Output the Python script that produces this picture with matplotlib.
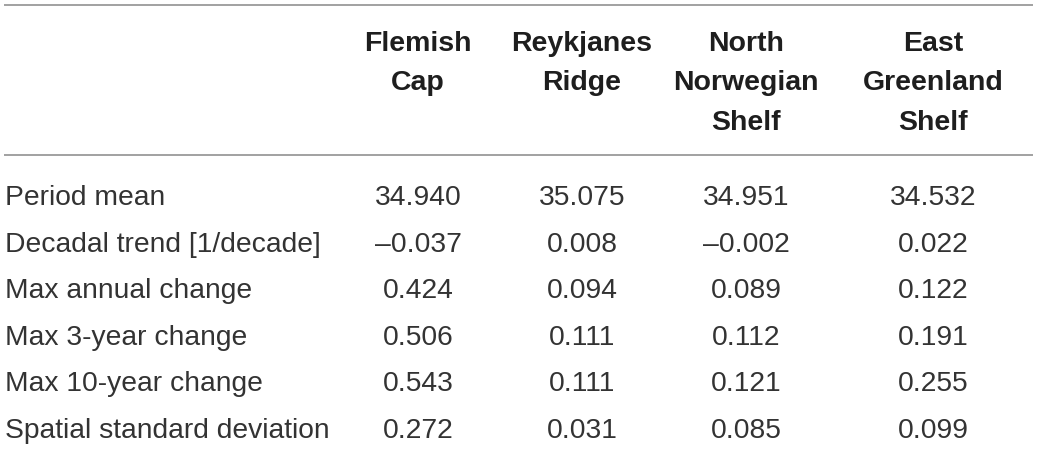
import matplotlib.pyplot as plt

# table content
columns = ["Flemish\nCap", "Reykjanes\nRidge", "North\nNorwegian\nShelf", "East\nGreenland\nShelf"]
row_labels = ["Period mean", "Decadal trend [1/decade]", "Max annual change",
              "Max 3-year change", "Max 10-year change", "Spatial standard deviation"]
flemish_cap = ["34.940", "\u20130.037", "0.424", "0.506", "0.543", "0.272"]
reykjanes_ridge = ["35.075", "0.008", "0.094", "0.111", "0.111", "0.031"]
north_norwegian = ["34.951", "\u20130.002", "0.089", "0.112", "0.121", "0.085"]
east_greenland = ["34.532", "0.022", "0.122", "0.191", "0.255", "0.099"]

W, H = 1039, 449
fig = plt.figure(figsize=(W / 100, H / 100), dpi=100)
ax = fig.add_axes([0, 0, 1, 1])
ax.set_xlim(0, W)
ax.set_ylim(H, 0)
ax.axis("off")

plt.rcParams["font.family"] = ["Liberation Sans", "DejaVu Sans"]
fs_head = 20.5
fs_body = 20.3
col_x = [418, 582, 746, 933]
head_base = 51
head_step = 39.5
row_base = 205
row_step = 46.6
line_col = "#9a9a9a"

# horizontal rules
ax.plot([4, 1033], [5, 5], color=line_col, lw=1.3, solid_capstyle="butt")
ax.plot([4, 1033], [155, 155], color=line_col, lw=1.3, solid_capstyle="butt")

# header
for x, name in zip(col_x, columns):
    for i, part in enumerate(name.split("\n")):
        ax.text(x, head_base + i * head_step, part, ha="center", va="baseline",
                fontsize=fs_head, fontweight="bold", color="#1e1e1e")

# body
data = [flemish_cap, reykjanes_ridge, north_norwegian, east_greenland]
for r, label in enumerate(row_labels):
    y = row_base + r * row_step
    ax.text(5, y, label, ha="left", va="baseline", fontsize=fs_body, color="#333333")
    for x, col in zip(col_x, data):
        ax.text(x, y, col[r], ha="center", va="baseline", fontsize=fs_body, color="#333333")

fig.savefig("out.png", dpi=100)
